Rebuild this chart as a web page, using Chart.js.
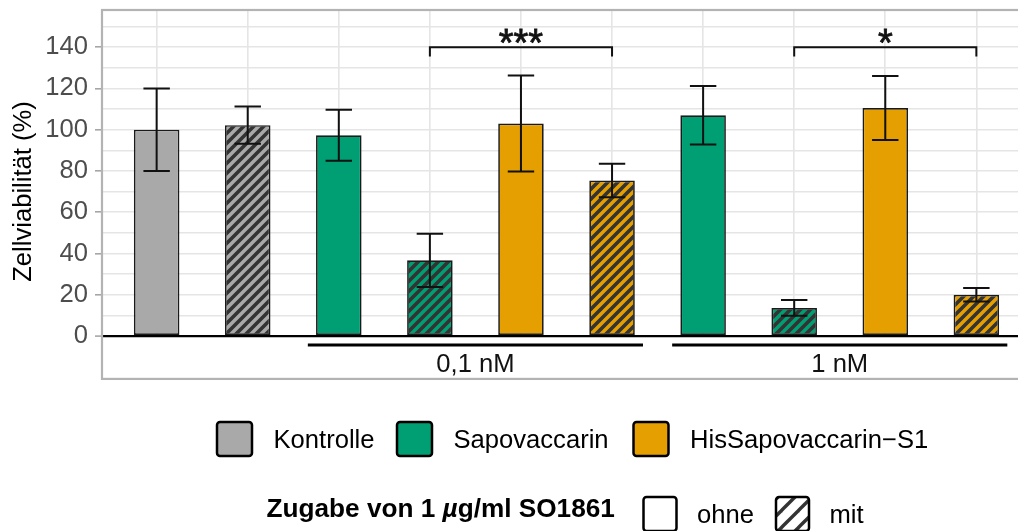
<!DOCTYPE html>
<html lang="de">
<head>
<meta charset="utf-8">
<title>Zellviabilität</title>
<script src="https://cdn.jsdelivr.net/npm/chart.js@4/dist/chart.umd.min.js"></script>
<style>
  html, body { margin: 0; padding: 0; overflow: hidden; background: #ffffff; }
  canvas { display: block; }
</style>
</head>
<body>
<canvas id="viability" width="1040" height="531"></canvas>
<script>
// ---- data -------------------------------------------------------------
const barLabels = [
  'Kontrolle', 'Kontrolle + SO1861',
  'Sapovaccarin 0,1 nM', 'Sapovaccarin 0,1 nM + SO1861',
  'HisSapovaccarin−S1 0,1 nM', 'HisSapovaccarin−S1 0,1 nM + SO1861',
  'Sapovaccarin 1 nM', 'Sapovaccarin 1 nM + SO1861',
  'HisSapovaccarin−S1 1 nM', 'HisSapovaccarin−S1 1 nM + SO1861'
];
const barSubstance = [0, 0, 1, 1, 2, 2, 1, 1, 2, 2];
const withSO1861   = [false, true, false, true, false, true, false, true, false, true];
const viability    = [100, 102.2, 97.3, 36.7, 103.0, 75.4, 107.0, 13.6, 110.5, 20.0];
const viabilitySD  = [20.0, 9.0, 12.4, 12.9, 23.3, 8.1, 14.2, 3.8, 15.5, 3.3];

const substanceNames  = ['Kontrolle', 'Sapovaccarin', 'HisSapovaccarin\u2212S1'];
const substanceColors = ['#A9A9A9', '#009E73', '#E69F00'];

const yTickValues = [0, 20, 40, 60, 80, 100, 120, 140];
const yGridValues = [0, 10, 20, 30, 40, 50, 60, 70, 80, 90, 100, 110, 120, 130, 140, 150];

const groupLabels = ['0,1 nM', '1 nM'];
const groupFirst  = [2, 6];
const groupLast   = [5, 9];

const sigLabels = ['***', '*'];
const sigFrom   = [3, 7];
const sigTo     = [5, 9];
const sigLevel  = [140, 140];

const additiveTitle  = 'Zugabe von 1 ';
const additiveLevels = ['ohne', 'mit'];

// ---- styling helpers ----------------------------------------------------
const FONT = '"Liberation Sans", Arial, Helvetica, sans-serif';
const TEXT_SIZE = 25.6;

function hatch(bg, period, lineWidth, stroke) {
  const t = document.createElement('canvas');
  t.width = period; t.height = period;
  const g = t.getContext('2d');
  g.fillStyle = bg;
  g.fillRect(0, 0, period, period);
  g.strokeStyle = stroke || '#333333';
  g.lineWidth = lineWidth;
  g.lineCap = 'square';
  for (let k = -1; k <= 1; k++) {
    g.beginPath();
    g.moveTo(k * period, period);
    g.lineTo(k * period + period, 0);
    g.stroke();
  }
  return g.createPattern(t, 'repeat');
}

const canvas = document.getElementById('viability');
const barFills = barSubstance.map((s, i) =>
  withSO1861[i] ? hatch(substanceColors[s], 10, 3.6) : substanceColors[s]);

// ---- overlay drawing: error bars, annotations, legend, axis title ------
const overlay = {
  id: 'overlay',
  afterDatasetsDraw(chart) {
    const { ctx, scales: { x, y } } = chart;
    ctx.save();
    ctx.strokeStyle = '#111111';
    ctx.lineWidth = 2;
    const half = 0.145;
    viability.forEach((v, i) => {
      const cx = x.getPixelForValue(i);
      const x0 = x.getPixelForValue(i - half);
      const x1 = x.getPixelForValue(i + half);
      const yHi = y.getPixelForValue(v + viabilitySD[i]);
      const yLo = y.getPixelForValue(v - viabilitySD[i]);
      ctx.beginPath();
      ctx.moveTo(cx, yHi); ctx.lineTo(cx, yLo);
      ctx.moveTo(x0, yHi); ctx.lineTo(x1, yHi);
      ctx.moveTo(x0, yLo); ctx.lineTo(x1, yLo);
      ctx.stroke();
    });
    ctx.restore();
  },
  afterDraw(chart) {
    const { ctx, scales: { x, y } } = chart;
    ctx.save();

    // panel frame
    const left = x.getPixelForValue(-0.6);
    const right = x.getPixelForValue(9.6);
    const top = y.getPixelForValue(158);
    const bottom = y.getPixelForValue(-20.8);
    ctx.strokeStyle = '#b3b3b3';
    ctx.lineWidth = 2.2;
    ctx.strokeRect(left, top, right - left, bottom - top);

    // concentration groups below the zero line
    ctx.strokeStyle = '#000000';
    ctx.lineWidth = 3;
    ctx.fillStyle = '#111111';
    ctx.font = `${TEXT_SIZE}px ${FONT}`;
    ctx.textAlign = 'center';
    ctx.textBaseline = 'alphabetic';
    groupLabels.forEach((lab, g) => {
      const a = x.getPixelForValue(groupFirst[g] - 0.34);
      const b = x.getPixelForValue(groupLast[g] + 0.34);
      const ly = y.getPixelForValue(-4.4);
      ctx.beginPath(); ctx.moveTo(a, ly); ctx.lineTo(b, ly); ctx.stroke();
      ctx.fillText(lab, (a + b) / 2, y.getPixelForValue(0) + 35.5);
    });

    // significance brackets
    ctx.lineWidth = 2;
    ctx.strokeStyle = '#111111';
    ctx.font = `38px ${FONT}`;
    sigLabels.forEach((lab, k) => {
      const a = x.getPixelForValue(sigFrom[k]);
      const b = x.getPixelForValue(sigTo[k]);
      const ly = y.getPixelForValue(sigLevel[k]);
      const ld = y.getPixelForValue(sigLevel[k] - 4.5);
      ctx.beginPath();
      ctx.moveTo(a, ld); ctx.lineTo(a, ly); ctx.lineTo(b, ly); ctx.lineTo(b, ld);
      ctx.stroke();
      ctx.lineWidth = 0.8;
      ctx.strokeText(lab, (a + b) / 2, ly + 9);
      ctx.fillText(lab, (a + b) / 2, ly + 9);
      ctx.lineWidth = 2;
    });

    // y axis title
    ctx.save();
    ctx.translate(24, (top + bottom) / 2 - 3);
    ctx.rotate(-Math.PI / 2);
    ctx.font = `${TEXT_SIZE}px ${FONT}`;
    ctx.fillStyle = '#000000';
    ctx.textBaseline = 'middle';
    ctx.textAlign = 'center';
    ctx.fillText('Zellviabilität (%)', 0, 0);
    ctx.restore();

    // legend: substances
    const key = (kx, ky, w, h, fill) => {
      ctx.beginPath();
      ctx.roundRect(kx, ky, w, h, 3);
      ctx.fillStyle = fill;
      ctx.fill();
      ctx.lineWidth = 2.5;
      ctx.strokeStyle = '#000000';
      ctx.stroke();
    };
    ctx.textAlign = 'left';
    ctx.textBaseline = 'alphabetic';
    ctx.font = `${TEXT_SIZE}px ${FONT}`;
    const keyX = [217, 397, 633.5];
    substanceNames.forEach((name, s) => {
      key(keyX[s], 422, 35, 34, substanceColors[s]);
      ctx.fillStyle = '#000000';
      ctx.fillText(name, keyX[s] + 56.5, 448.3);
    });

    // legend: additive
    const BOLD = 26.2;
    ctx.font = `bold ${BOLD}px ${FONT}`;
    ctx.fillStyle = '#000000';
    ctx.fillText(additiveTitle, 266.5, 517);
    let tx = 266.5 + ctx.measureText(additiveTitle).width;
    ctx.font = `italic bold ${BOLD}px ${FONT}`;
    ctx.fillText('\u00b5', tx, 517);
    tx += ctx.measureText('\u00b5').width;
    ctx.font = `bold ${BOLD}px ${FONT}`;
    ctx.fillText('g/ml SO1861', tx, 517);

    const addKeyX = [643.5, 776];
    const addFills = ['#ffffff', hatch('#ffffff', 17, 3.4, '#333333')];
    ctx.font = `${TEXT_SIZE}px ${FONT}`;
    additiveLevels.forEach((lab, k) => {
      key(addKeyX[k], 497, 33, 34, addFills[k]);
      ctx.fillStyle = '#000000';
      ctx.fillText(lab, addKeyX[k] + 53.5, 523.3);
    });

    ctx.restore();
  }
};

// ---- chart --------------------------------------------------------------
new Chart(canvas, {
  type: 'bar',
  data: {
    datasets: [{
      label: 'Zellviabilität (%)',
      data: viability.map((v, i) => ({ x: i, y: v })),
      backgroundColor: barFills,
      borderColor: '#1a1a1a',
      borderWidth: 1.7,
      borderSkipped: false,
      categoryPercentage: 0.5,
      barPercentage: 1.0
    }]
  },
  options: {
    responsive: false,
    animation: false,
    devicePixelRatio: 1,
    layout: { padding: { top: 10, right: 9, left: 0, bottom: 0 } },
    plugins: { legend: { display: false }, tooltip: { enabled: false } },
    scales: {
      x: {
        type: 'linear',
        min: -0.6,
        max: 9.6,
        offset: false,
        afterBuildTicks: (s) => { s.ticks = barLabels.map((_, i) => ({ value: i })); },
        afterFit: (s) => {
          s.height = 195;
          s.paddingLeft = 0; s.paddingRight = 0;
        },
        ticks: { display: false },
        grid: { color: '#e5e5e5', lineWidth: 1.6, drawTicks: false, offset: false },
        border: { display: false }
      },
      y: {
        min: 0,
        max: 158,
        afterBuildTicks: (s) => { s.ticks = yGridValues.map(v => ({ value: v })); },
        afterFit: (s) => {
          s.width = 102;
          s.paddingTop = 0; s.paddingBottom = 0;
        },
        ticks: {
          autoSkip: false,
          padding: 7,
          color: '#4d4d4d',
          font: { family: FONT, size: TEXT_SIZE },
          callback: (v) => yTickValues.includes(v) ? String(v) : ''
        },
        grid: {
          color: (c) => (c.tick && c.tick.value === 0) ? '#000000' : '#e5e5e5',
          lineWidth: (c) => (c.tick && c.tick.value === 0) ? 2.2 : 1.6,
          tickLength: 7,
          tickWidth: 1.6,
          tickColor: (c) => (c.tick && yTickValues.includes(c.tick.value)) ? '#a6a6a6' : 'rgba(0,0,0,0)'
        },
        border: { display: false }
      }
    }
  },
  plugins: [overlay]
});
</script>
</body>
</html>
